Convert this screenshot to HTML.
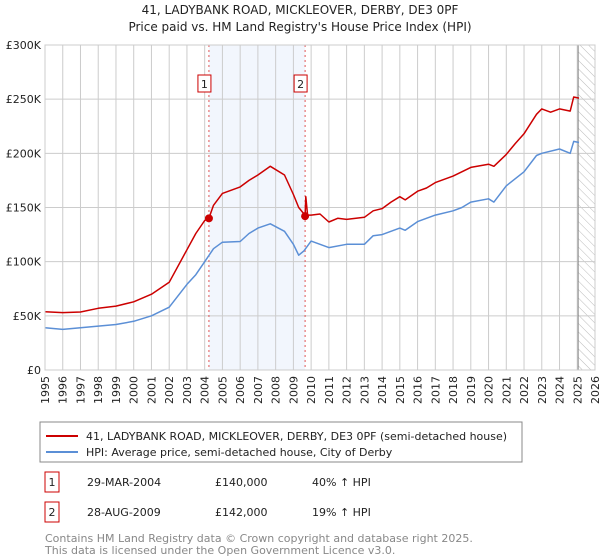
<!DOCTYPE html>
<html><head><meta charset="utf-8"><style>
body{margin:0;background:#fff;font-family:"Liberation Sans","DejaVu Sans",sans-serif;}
#wrap{position:relative;width:600px;height:560px;overflow:hidden}
text{font-family:"DejaVu Sans","Liberation Sans",sans-serif}
</style></head><body><div id="wrap">
<svg id="svg" width="600" height="560" xmlns="http://www.w3.org/2000/svg">
<defs><pattern id="hatch" width="6" height="6" patternUnits="userSpaceOnUse" patternTransform="rotate(-45)"><line x1="0" y1="0" x2="0" y2="6" stroke="#bbb" stroke-width="1"/></pattern></defs>
<text x="300" y="14" text-anchor="middle" font-size="12" fill="#222">41, LADYBANK ROAD, MICKLEOVER, DERBY, DE3 0PF</text>
<text x="300" y="31" text-anchor="middle" font-size="12" fill="#222">Price paid vs. HM Land Registry's House Price Index (HPI)</text>
<g id="plot"></g>
<rect x="40" y="422" width="482" height="40" fill="#fff" stroke="#888"/>
<line x1="46" y1="436" x2="78" y2="436" stroke="#cc0000" stroke-width="2"/>
<text x="86" y="440" font-size="11" fill="#222">41, LADYBANK ROAD, MICKLEOVER, DERBY, DE3 0PF (semi-detached house)</text>
<line x1="46" y1="452" x2="78" y2="452" stroke="#5b8fd6" stroke-width="2"/>
<text x="86" y="456" font-size="11" fill="#222">HPI: Average price, semi-detached house, City of Derby</text>
<rect x="45" y="472" width="14" height="20" fill="#fff" stroke="#cc0000"/>
<text x="52" y="486" text-anchor="middle" font-size="11" fill="#222">1</text>
<text x="87" y="486" font-size="11" fill="#222">29-MAR-2004</text>
<text x="215" y="486" font-size="11" fill="#222">£140,000</text>
<text x="312" y="486" font-size="11" fill="#222">40% ↑ HPI</text>
<rect x="45" y="502" width="14" height="20" fill="#fff" stroke="#cc0000"/>
<text x="52" y="516" text-anchor="middle" font-size="11" fill="#222">2</text>
<text x="87" y="516" font-size="11" fill="#222">28-AUG-2009</text>
<text x="215" y="516" font-size="11" fill="#222">£142,000</text>
<text x="312" y="516" font-size="11" fill="#222">19% ↑ HPI</text>
<text x="45" y="542" font-size="11" fill="#888">Contains HM Land Registry data © Crown copyright and database right 2025.</text>
<text x="45" y="554" font-size="11" fill="#888">This data is licensed under the Open Government Licence v3.0.</text>
</svg></div>
<script>
const yearTicks=[1995,1996,1997,1998,1999,2000,2001,2002,2003,2004,2005,2006,2007,2008,2009,2010,2011,2012,2013,2014,2015,2016,2017,2018,2019,2020,2021,2022,2023,2024,2025,2026];
const valueTicks=[0,50,100,150,200,250,300];
const valueLabels=["£0","£50K","£100K","£150K","£200K","£250K","£300K"];
const hpiDates=[1995,1996,1997,1998,1999,2000,2001,2002,2003,2003.5,2004,2004.5,2005,2006,2006.5,2007,2007.7,2008.5,2009,2009.3,2009.6,2010,2010.5,2011,2012,2013,2013.5,2014,2015,2015.3,2016,2017,2018,2018.5,2019,2020,2020.3,2021,2022,2022.7,2023,2024,2024.6,2024.8,2025.1];
const hpiValues=[39,37.5,39,40.5,42,45,50,58,79,88,100,112,118,118.6,126,131,135,128,116,106,110,119,116,113,116,116,124,125,131,129,137,143,147,150,155,158,155,170,183,198,200,204,200,211,210];
const propDates=[1995,1996,1997,1998,1999,2000,2001,2002,2003,2003.5,2004,2004.24,2004.5,2005,2006,2006.5,2007,2007.7,2008.5,2009,2009.3,2009.55,2009.66,2009.7,2009.8,2010,2010.5,2011,2011.5,2012,2013,2013.5,2014,2014.5,2015,2015.3,2016,2016.5,2017,2018,2019,2020,2020.3,2021,2021.5,2022,2022.7,2023,2023.5,2024,2024.6,2024.8,2025.1];
const propValues=[53.7,53,53.5,57,59,63,70,81,111,126,138,140,152,163,169,175,180,188,180,162,150,145,142,160,143,143,144,136.6,140,139,141,147,149,155,160,157,165,168,173,179,187,190,188,199,209,218,236,241,238,241,239,252,251];
const saleDates=[2004.24,2009.66];
const saleValues=[140,142];
const saleLabels=["1","2"];

const L=45,R=595,T=45,B=370,Y0=1995,Y1=2026,VMAX=300;
const xs=y=>L+(y-Y0)/(Y1-Y0)*(R-L);
const ys=v=>B-v/VMAX*(B-T);
const NS="http://www.w3.org/2000/svg";
const g=document.getElementById('plot');
function mk(tag,attrs,parent){const e=document.createElementNS(NS,tag);for(const k in attrs)e.setAttribute(k,attrs[k]);(parent||g).appendChild(e);return e;}
let r=mk('rect',{x:xs(saleDates[0]),y:T,width:xs(saleDates[1])-xs(saleDates[0]),height:B-T,fill:'#f2f6fd'});


let h=mk('rect',{x:xs(2025.05),y:T,width:R-xs(2025.05),height:B-T,fill:'url(#hatch)'});


yearTicks.forEach(y=>{let l=mk('line',{x1:xs(y),x2:xs(y),y1:T,y2:B,stroke:'#ccc','stroke-width':1});


let t=mk('text',{x:0,y:0,'font-size':11,fill:'#222','text-anchor':'end',transform:`translate(${xs(y)+4},${B+6}) rotate(-90)`});t.textContent=y;

});
valueTicks.forEach((v,i)=>{let l=mk('line',{x1:L,x2:R,y1:ys(v),y2:ys(v),stroke:'#ccc','stroke-width':1});


let t=mk('text',{x:L-4,y:ys(v)+4,'font-size':11,fill:'#222','text-anchor':'end'});t.textContent=valueLabels[i];

});
let vl=mk('line',{x1:xs(2025.05),x2:xs(2025.05),y1:T,y2:B,stroke:'#888','stroke-width':1});


saleDates.forEach((d,i)=>{let l=mk('line',{x1:xs(d),x2:xs(d),y1:T,y2:B,stroke:'#e05555','stroke-width':1,'stroke-dasharray':'2,3'});


let b=mk('rect',{x:xs(d)-11,y:75,width:13,height:17,fill:'#fff',stroke:'#cc0000'});


let t=mk('text',{x:xs(d)-4.5,y:88,'font-size':11,fill:'#222','text-anchor':'middle'});t.textContent=saleLabels[i];});
function path(ds,vs,color,name){let d=ds.map((x,i)=>(i?'L':'M')+xs(x).toFixed(1)+','+ys(vs[i]).toFixed(1)).join('');
let p=mk('path',{d:d,fill:'none',stroke:color,'stroke-width':1.5,'stroke-linejoin':'round'});

}
path(hpiDates,hpiValues,'#5b8fd6','hpi-line');
path(propDates,propValues,'#cc0000','property-line');
saleDates.forEach((d,i)=>{let c=mk('circle',{cx:xs(d),cy:ys(saleValues[i]),r:4,fill:'#cc0000'});

});
let fr=mk('rect',{x:L,y:T,width:R-L,height:B-T,fill:'none',stroke:'#ccc'});


</script></body></html>
